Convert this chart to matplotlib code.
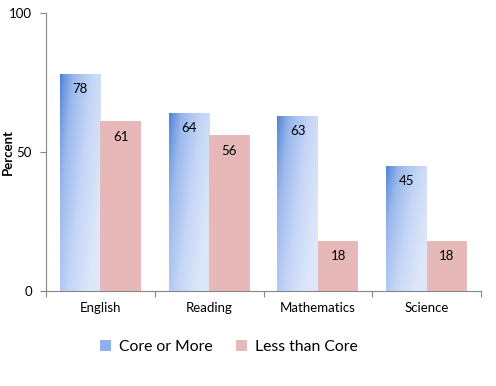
import numpy as np
import matplotlib
matplotlib.use('Agg')
import matplotlib.pyplot as plt
from matplotlib.colors import LinearSegmentedColormap
from matplotlib.patches import Patch

# 数据
categories = ['English', 'Reading', 'Mathematics', 'Science']
core_or_more = [78, 64, 63, 45]
less_than_core = [61, 56, 18, 18]
series_names = ['Core or More', 'Less than Core']

plt.rcParams['font.family'] = ['Lato', 'DejaVu Sans']

fig = plt.figure(figsize=(4.96, 3.86), dpi=100)
ax = fig.add_axes([0.0927, 0.2461, 0.8771, 0.7202])

x = np.arange(len(categories))
w = 0.372

# 蓝色渐变（左上深，右下浅）
blue_cmap = LinearSegmentedColormap.from_list(
    'blu', ['#4a7fd4', '#9ab8ec', '#c4d5f6', '#dde7f9'])
gx, gy = np.meshgrid(np.linspace(0, 1, 60), np.linspace(0, 1, 120))
grad = np.clip(0.75 * gx + 0.45 * gy, 0, 1) ** 0.8  # gy=0 在顶部

for i, v in enumerate(core_or_more):
    x0 = x[i] - w
    bar = ax.bar(x0, v, width=w, align='edge', color='none', edgecolor='none')[0]
    im = ax.imshow(grad, cmap=blue_cmap, extent=[x0, x0 + w, 0, v],
                   aspect='auto', origin='upper', zorder=2, interpolation='bilinear')
    im.set_clip_path(bar)
    ax.text(x[i] - w / 2, v - 5.5, str(v), ha='center', va='center',
            fontsize=9.5, color='black', zorder=3)

ax.bar(x, less_than_core, width=w, align='edge', color='#e6b9b8', zorder=2)
for i, v in enumerate(less_than_core):
    ax.text(x[i] + w / 2, v - 5.5, str(v), ha='center', va='center',
            fontsize=9.5, color='black', zorder=3)

ax.set_xlim(-0.5, len(categories) - 0.5)
ax.set_ylim(0, 100)
ax.set_yticks([0, 50, 100])
ax.set_xticks(np.arange(len(categories) + 1) - 0.5)
ax.set_xticklabels([])
ax.set_xticks(x, minor=True)
ax.set_xticklabels(categories, minor=True)
ax.tick_params(axis='x', which='minor', length=0, pad=8, labelsize=9.5)
ax.tick_params(axis='x', which='major', length=4, color='#868686')
ax.tick_params(axis='y', length=4, color='#868686', labelsize=9.5, pad=6)
for s in ['top', 'right']:
    ax.spines[s].set_visible(False)
for s in ['left', 'bottom']:
    ax.spines[s].set_color('#868686')
ax.set_ylabel('Percent', fontsize=9.5, fontweight='bold')
ax.yaxis.set_label_coords(-0.074, 0.5)

handles = [Patch(facecolor='#8fb0ea', edgecolor='none'),
           Patch(facecolor='#e6b9b8', edgecolor='none')]
fig.legend(handles, series_names, loc='center', bbox_to_anchor=(0.462, 0.1),
           ncol=2, frameon=False, fontsize=11.3, handlelength=0.7, handleheight=0.7,
           handletextpad=0.5, columnspacing=1.5)

fig.savefig('out.png', dpi=100)
